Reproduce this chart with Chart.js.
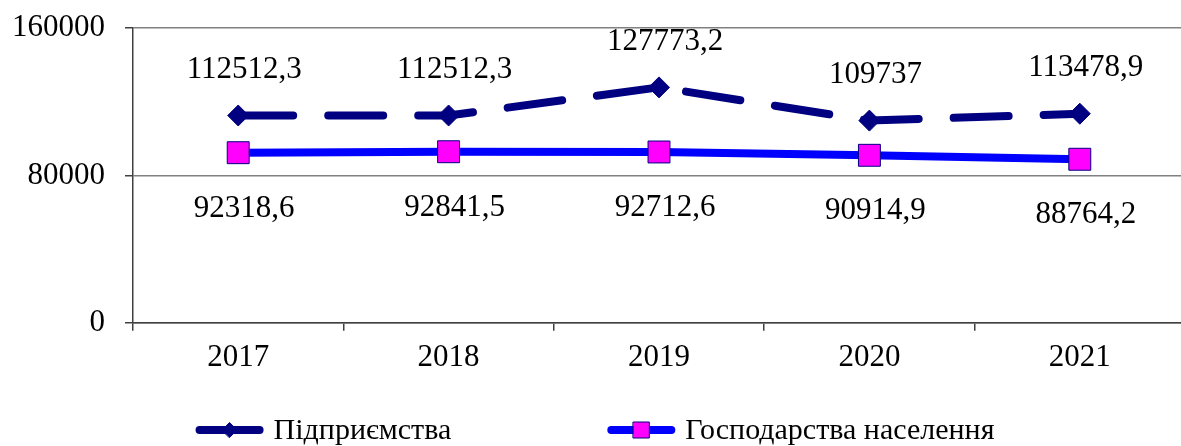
<!DOCTYPE html>
<html>
<head>
<meta charset="utf-8">
<script src="https://cdn.jsdelivr.net/npm/chart.js@4"></script>
<style>
  html, body { margin: 0; padding: 0; background: #fff; overflow: hidden; }
</style>
</head>
<body>
<canvas id="chart1" width="1210" height="446"></canvas>
<script>
// values
const YEARS = ["2017", "2018", "2019", "2020", "2021"];
const ENTERPRISES = [112512.3, 112512.3, 127773.2, 109737, 113478.9];
const HOUSEHOLDS = [92318.6, 92841.5, 92712.6, 90914.9, 88764.2];
const SERIES_NAMES = ["Підприємства", "Господарства населення"];
const Y_MIN = 0;
const Y_MAX = 160000;
const Y_STEP = 80000;

const FONT = "'Liberation Serif', 'Times New Roman', serif";

// numbers drawn next to every point, comma as decimal mark
const valueLabels = {
  id: "valueLabels",
  afterDatasetsDraw(chart) {
    const ctx = chart.ctx;
    ctx.save();
    ctx.font = "31px " + FONT;
    ctx.fillStyle = "#000";
    ctx.textAlign = "center";
    ctx.textBaseline = "middle";
    chart.data.datasets.forEach((ds, i) => {
      chart.getDatasetMeta(i).data.forEach((pt, j) => {
        const text = String(ds.data[j]).replace(".", ",");
        ctx.fillText(text, pt.x + ds.labelDx, pt.y + ds.labelDy);
      });
    });
    ctx.restore();
  },
};

function drawMarker(ctx, style, x, y, r, fill, stroke) {
  ctx.beginPath();
  if (style === "rectRot") {
    ctx.moveTo(x - r, y);
    ctx.lineTo(x, y - r);
    ctx.lineTo(x + r, y);
    ctx.lineTo(x, y + r);
    ctx.closePath();
  } else {
    ctx.rect(x - r, y - r, 2 * r, 2 * r);
  }
  ctx.fillStyle = fill;
  ctx.fill();
  ctx.lineWidth = 1;
  ctx.strokeStyle = stroke;
  ctx.stroke();
}

// legend with a line sample + marker, like the office chart
const lineLegend = {
  id: "lineLegend",
  afterDraw(chart, args, opts) {
    const ctx = chart.ctx;
    ctx.save();
    ctx.font = opts.fontSize + "px " + FONT;
    const items = chart.data.datasets.map((ds) => ({
      ds,
      w: opts.lineLength + opts.textGap + ctx.measureText(ds.label).width,
    }));
    const total =
      items.reduce((s, it) => s + it.w, 0) + opts.itemGap * (items.length - 1);
    let x = opts.centerX - total / 2;
    const y = opts.y;
    items.forEach(({ ds, w }) => {
      ctx.setLineDash([]);
      ctx.lineCap = "round";
      ctx.lineWidth = ds.borderWidth;
      ctx.strokeStyle = ds.borderColor;
      ctx.beginPath();
      ctx.moveTo(x + 4, y);
      ctx.lineTo(x + opts.lineLength - 4, y);
      ctx.stroke();
      drawMarker(ctx, ds.pointStyle, x + opts.lineLength / 2, y,
        ds.legendRadius, ds.pointBackgroundColor, ds.pointBorderColor);
      ctx.fillStyle = "#000";
      ctx.textAlign = "left";
      ctx.textBaseline = "middle";
      ctx.fillText(ds.label, x + opts.lineLength + opts.textGap, y + 1);
      x += w + opts.itemGap;
    });
    ctx.restore();
  },
};

new Chart(document.getElementById("chart1"), {
  type: "line",
  data: {
    labels: YEARS,
    datasets: [
      {
        label: SERIES_NAMES[0],
        data: ENTERPRISES,
        borderColor: "#000080",
        borderWidth: 8,
        borderDash: [55, 35],
        borderCapStyle: "round",
        tension: 0,
        pointStyle: "rectRot",
        pointRadius: 10.5,
        pointBackgroundColor: "#000080",
        pointBorderColor: "#000080",
        pointBorderWidth: 1,
        legendRadius: 7.5,
        labelDx: 6,
        labelDy: -46,
      },
      {
        label: SERIES_NAMES[1],
        data: HOUSEHOLDS,
        borderColor: "#0000FF",
        borderWidth: 8,
        tension: 0,
        pointStyle: "rect",
        pointRadius: 15.5,
        pointBackgroundColor: "#FF00FF",
        pointBorderColor: "#000080",
        pointBorderWidth: 1,
        legendRadius: 8,
        labelDx: 6,
        labelDy: 56,
      },
    ],
  },
  options: {
    responsive: false,
    animation: false,
    devicePixelRatio: 1,
    layout: {
      padding: { left: 0, right: 25, top: 28, bottom: 62 },
    },
    scales: {
      x: {
        offset: true,
        grid: {
          offset: true,
          drawOnChartArea: false,
          drawTicks: true,
          tickLength: 8,
          tickColor: "#404040",
          lineWidth: 1.5,
        },
        border: { color: "#404040", width: 1.5 },
        ticks: {
          color: "#000",
          font: { family: FONT, size: 31 },
          padding: 8,
          maxRotation: 0,
        },
      },
      y: {
        min: Y_MIN,
        max: Y_MAX,
        afterFit: (scale) => {
          scale.width = 133;
          scale.paddingTop = 0;
          scale.paddingBottom = 0;
        },
        grid: {
          color: "#808080",
          lineWidth: 1.5,
          tickLength: 8,
          tickColor: "#404040",
        },
        border: { color: "#404040", width: 1.5 },
        ticks: {
          stepSize: Y_STEP,
          color: "#000",
          font: { family: FONT, size: 31 },
          padding: 20,
          callback: (v) => String(v),
        },
      },
    },
    plugins: {
      legend: { display: false },
      tooltip: { enabled: false },
      lineLegend: {
        fontSize: 30,
        lineLength: 68,
        textGap: 10,
        itemGap: 156,
        centerX: 595,
        y: 430,
      },
    },
  },
  plugins: [valueLabels, lineLegend],
});
</script>
</body>
</html>
